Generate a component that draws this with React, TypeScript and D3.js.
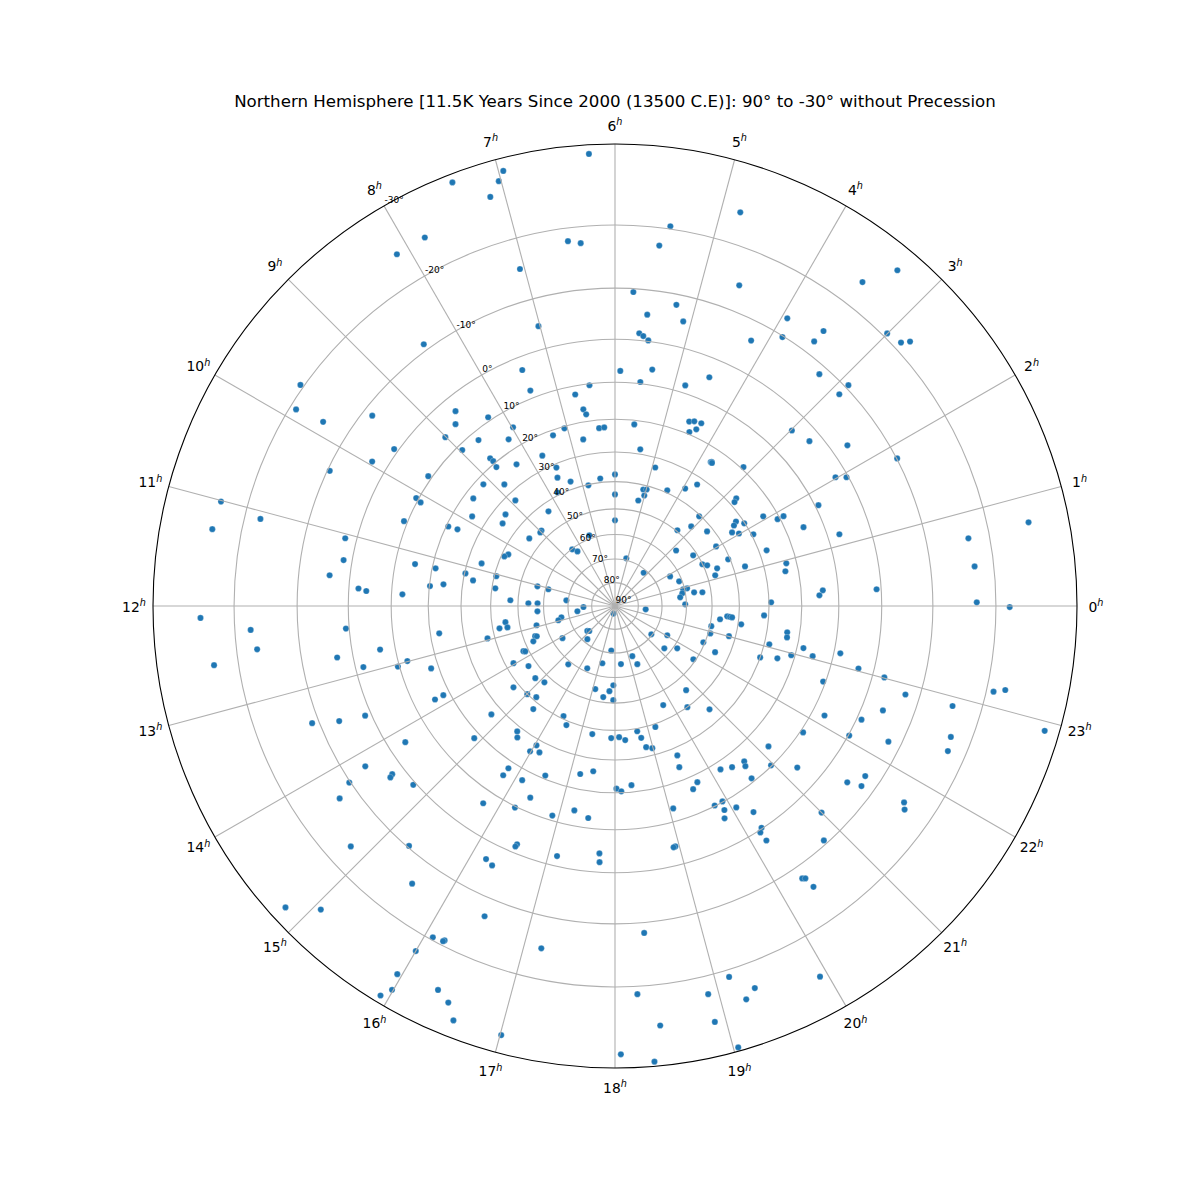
import React from 'react';
import * as d3 from 'd3';

// --- DATA ---
const TITLE = 'Northern Hemisphere [11.5K Years Since 2000 (13500 C.E)]: 90° to -30° without Precession';

// right ascension of each star, hours
const raHours = [
  6.22, 6.96, 7.02, 7.40, 7.13, 7.82, 8.12, 6.49, 6.36, 7.05, 7.02, 8.41, 7.43, 6.44, 7.43, 6.71, 9.66, 9.89, 9.85, 9.46,
  8.62, 8.75, 8.26, 6.61, 6.57, 7.98, 6.34, 6.23, 7.06, 7.33, 6.72, 8.17, 8.63, 9.01, 8.96, 9.64, 7.72, 8.68, 8.67, 8.70,
  8.32, 7.53, 7.61, 7.31, 6.44, 6.83, 6.00, 6.00, 9.15, 8.82, 9.52, 8.89, 7.79, 8.34, 9.86, 9.34, 9.58, 8.95, 9.03, 9.45,
  7.33, 6.00, 8.47, 8.30, 10.28, 10.39, 10.82, 11.18, 11.06, 11.32, 11.44, 11.05, 11.06, 11.79, 11.88, 11.87, 11.56, 12.12,
  3.76, 3.745, 3.739, 3.725, 4.92, 3.149, 3.729, 3.943, 4.379, 5.091, 4.987, 5.011, 5.171, 2.773, 2.733, 2.078, 3.12, 2.328, 2.272, 2.173,
  3.083, 3.369, 2.6, 2.143, 2.021, 1.827, 2.034, 2.817, 2.195, 5.111, 1.493, 1.702, 1.587, 1.129, 1.349, 1.135, 3.283, 1.883, 1.401, 0.917,
  0.916, 0.653, 0.595, 0.713, 0.506, 0.092,
  4.823, 5.447, 5.533, 3.329, 3.508, 4.588, 5.777, 5.232, 5.579, 3.939, 5.101, 3.522, 5.661, 5.601, 5.524, 4.19, 3.873, 3.535, 3.003, 2.843,
  2.791, 5.914, 5.403, 4.506, 3.24, 5.57, 4.822, 2.894, 2.89, 5.596, 4.539, 4.451, 4.315, 4.353, 4.457, 2.985, 2.686, 2.311, 5.389,
  9.95, 10.31, 9.68, 10.10, 10.13, 11.01, 11.08, 11.28, 10.54, 10.30, 10.27, 11.06, 11.36, 11.21, 11.21, 11.59, 11.52, 11.59, 11.74, 11.77,
  11.79, 12.11, 12.25, 12.32, 12.59, 12.46, 12.70, 12.70, 12.56, 12.91, 12.99, 13.04, 13.25, 13.83, 13.83, 13.41, 13.51, 13.58, 14.20,
  12.26, 12.53, 12.79, 12.94, 12.56, 12.92, 12.73, 12.75, 12.95, 14.80, 14.95, 13.38, 13.41, 13.56, 14.10, 15.35, 17.68, 13.75, 13.79, 17.17,
  13.96, 14.32, 15.42, 16.40, 14.81, 15.15, 14.58, 17.11, 17.92, 17.75, 17.51, 17.93, 15.01, 15.28, 15.44, 14.75, 16.33, 16.52, 15.47, 15.56,
  17.33, 14.88, 17.89, 16.04, 15.98, 16.18, 17.25,
  23.59, 23.65, 23.64, 23.63, 23.52, 23.45, 23.76, 23.21, 22.93, 21.47, 22.05, 23.01, 22.51, 21.29, 21.72, 22.35, 19.27, 22.70, 21.72, 18.39,
  19.40, 20.68, 19.73, 20.37, 20.83, 19.23, 18.67, 18.75, 18.12, 18.29, 18.83, 18.98, 19.51,
  1.841, 2.019, 1.939, 1.757, 1.874, 1.87, 1.512, 1.182, 0.723, 0.763, 0.419, 1.345, 0.933, 0.768, 0.287, 0.2, 0.244, 0.09, 0.039, 23.99,
  23.42, 23.31, 23.07, 23.16, 22.81, 22.96, 23.05, 23.21, 23.04, 23.01, 22.67, 22.87, 23.15, 23.19, 22.90, 22.58, 22.16, 22.35, 22.92, 21.74,
  22.07, 22.58, 22.24, 22.43, 21.17,
  20.65, 19.45, 20.19, 20.40, 20.61, 20.96, 21.23, 21.72, 21.52, 21.59, 19.67, 20.56, 18.35, 18.03, 18.13, 19.54, 21.72, 21.66, 19.92, 19.77,
  19.07, 20.07, 19.88, 20.26, 21.00, 19.82, 20.23, 20.18, 20.19, 20.78, 18.94, 18.91, 20.30, 20.33, 20.35, 18.34, 19.14, 19.93, 19.34, 18.22,
  18.90, 19.23, 18.41, 18.90, 19.04, 18.05, 18.33,
  14.18, 14.47, 14.49, 14.24, 14.77, 14.33, 15.78, 15.77, 16.13, 16.51, 17.22, 17.50, 16.41, 15.75, 16.24, 17.25, 16.89, 17.52, 16.51, 16.50,
  15.29, 14.82, 17.13, 17.76, 17.77, 16.20, 16.31, 15.59, 14.83, 15.06, 16.48, 16.08, 16.20, 16.19, 17.19, 16.00, 15.96, 15.99, 15.93, 16.35,
  16.48, 16.58, 17.01,
];

// declination of each star, degrees (same order as raHours)
const decDegrees = [
  -29.0, -28.6, -27.6, -29.1, -26.1, -24.5, -24.4, -18.1, -17.6, -15.4, -4.8, -11.1, 2.9, 10.4, 8.1, 12.2, -20.5, -19.1, -14.6, -8.3,
  3.3, 5.6, 9.1, 16.5, 18.0, 14.7, 22.4, 22.3, 20.6, 21.5, 25.1, 16.9, 12.3, 6.2, 11.4, -0.9, 25.9, 18.1, 19.3, 21.2,
  24.2, 31.2, 34.4, 37.3, 38.6, 40.3, 37.5, 44.6, 22.2, 26.7, 22.6, 32.9, 39.0, 43.1, 25.4, 33.7, 34.8, 46.9, 47.1, 45.5,
  58.5, 54.4, 60.2, 62.1, 42.1, 41.1, 34.6, 30.3, 40.7, 33.2, 41.2, 56.6, 61.1, 47.1, 54.0, 57.6, 69.2, 76.5,
  24.1, 23.9, 24.1, 24.1, 33.2, 19.3, 32.4, 35.7, 39.1, 41.6, 41.3, 43.6, 45.9, 27.4, 28.6, 24.0, 40.5, 32.1, 33.4, 30.2,
  45.1, 49.6, 42.1, 35.2, 33.4, 29.4, 42.5, 55.6, 51.5, 69.2, 40.7, 50.1, 48.6, 36.0, 45.6, 47.1, 71.3, 63.6, 61.1, 58.9,
  60.5, 56.5, 53.3, 61.2, 62.3, 60.5,
  -24.3, -20.4, -17.4, -27.4, -23.6, -14.4, -9.4, -8.1, -5.4, -13.0, -5.3, -14.6, -1.5, -1.0, -0.2, -6.4, -9.8, -12.3, -20.6, -21.1,
  -22.1, 7.2, 6.2, 4.3, -8.4, 9.6, 8.1, -10.6, -8.3, 21.2, 16.6, 16.0, 15.7, 17.8, 19.3, 3.9, 2.6, -3.3, 28.5,
  -3.3, -9.6, 9.1, 9.4, 10.9, -23.6, -17.7, -23.9, 9.1, 20.6, 23.4, -2.4, -1.8, 15.1, 21.0, -4.2, 24.1, 20.2, 2.1, 3.9,
  12.8, -24.5, -17.7, -0.7, 22.6, -17.0, 6.3, -3.3, -23.3, 1.7, 12.3, 9.6, 17.9, 18.1, 15.5, -11.2, -6.5, -1.3, 3.7,
  57.5, 73.8, 66.8, 65.3, 44.9, 56.3, 42.4, 45.3, 37.5, 74.1, 74.7, 54.5, 55.1, 53.1, 64.0, 71.6, 71.0, 48.1, 48.7, 65.2,
  42.8, 46.9, 58.7, 61.3, 46.1, 47.4, 38.0, 54.5, 56.9, 54.5, 52.0, 51.1, 40.0, 41.4, 37.5, 26.7, 41.0, 38.5, 28.4, 26.9,
  38.0, 18.2, 37.3, 28.1, 25.5, 26.6, 86.7,
  76.8, 44.2, 43.2, 42.4, 46.7, 38.9, 31.5, 49.5, 49.2, 70.4, 64.7, 42.3, 50.6, 62.6, 58.5, 45.1, 67.5, 30.0, 50.9, 65.3,
  63.7, 45.1, 45.1, 40.0, 34.6, 38.9, 39.0, 36.5, 37.6, 36.5, 33.1, 32.3, 27.5,
  -10.1, 2.5, 0.4, 9.2, 20.7, 18.8, 15.1, 7.1, -16.9, -25.4, -17.2, 27.6, 23.0, 23.8, 14.0, 15.0, 1.0, 29.3, -17.2, -21.9,
  23.7, 23.5, 28.4, 18.2, 24.8, 21.1, 15.2, 8.4, 3.4, -2.5, 10.6, -7.4, -21.0, -22.5, -15.7, -4.3, 6.9, -1.0, -28.4, 9.3,
  -0.2, -17.0, -7.7, -17.4, 14.1,
  15.7, 23.9, 17.8, 16.5, 14.5, 10.2, 5.2, -7.2, -5.1, -7.7, 17.8, 11.0, 22.0, 21.2, 20.4, 16.5, -15.3, -16.0, 10.2, 10.2,
  13.4, 7.2, 8.1, 4.1, -5.2, 6.3, 0.2, -0.5, -2.6, -9.3, 4.2, 4.1, -12.2, -12.5, -14.4, -11.8, -21.0, -25.6, -23.5, -21.1,
  -22.5, -24.5, -25.4, -26.1, -29.6, -28.5, -29.5,
  -6.1, -2.6, -3.3, -10.2, -0.6, -13.1, 17.9, 15.5, 17.0, 21.0, 24.5, 26.0, 13.7, 6.7, 9.7, 14.0, 11.3, 12.6, 2.0, 1.4,
  -9.7, -16.5, 2.2, 4.2, 2.2, -3.6, -4.2, -14.4, -28.3, -25.5, -13.2, -19.6, -19.2, -19.4, -15.4, -22.4, -26.1, -28.0, -29.2, -25.5,
  -26.4, -28.1, -28.0,
];

const hourTicks = d3.range(0, 24);
const decTicks = [90, 80, 70, 60, 50, 40, 30, 20, 10, 0, -10, -20, -30];

// --- LAYOUT ---
const SIZE = 1200;
const CX = 615;
const CY = 606;
const OUTER_R = 462;
const FONT = '"DejaVu Sans", sans-serif';

// --- SCALES ---
// hour 0 points east and hours grow counter-clockwise; d3.pointRadial measures from north, clockwise
const angle = d3.scaleLinear().domain([0, 24]).range([Math.PI / 2, Math.PI / 2 - 2 * Math.PI]);

// stereographic polar projection of declination
const zenithTan = (dec: number) => Math.tan(((90 - dec) / 2) * (Math.PI / 180));
const radius = d3.scaleLinear().domain([0, zenithTan(-30)]).range([0, OUTER_R]);
const decRadius = (dec: number) => radius(zenithTan(dec));

const stars = raHours.map((ra, i) => ({ ra, dec: decDegrees[i] }));

export default function App() {
  return (
    <svg
      width={SIZE}
      height={SIZE}
      viewBox={`0 0 ${SIZE} ${SIZE}`}
      style={{ position: 'absolute', left: 0, top: 0, background: '#fff' }}
      fontFamily={FONT}
    >
      <text x={CX} y={107} textAnchor="middle" fontSize={16.65} fill="#000">
        {TITLE}
      </text>

      <g transform={`translate(${CX},${CY})`}>
        {/* stars sit under the grid */}
        <g>
          {stars.map((s, i) => {
            const [x, y] = d3.pointRadial(angle(s.ra), decRadius(s.dec));
            return <circle key={i} cx={x} cy={y} r={3.1} fill="#1f77b4" stroke="#fff" strokeOpacity={0.5} strokeWidth={0.5} />;
          })}
        </g>

        {/* declination rings */}
        <g fill="none" stroke="#b0b0b0" strokeWidth={1.1}>
          {decTicks.filter(d => d !== 90 && d !== -30).map(d => (
            <circle key={d} r={decRadius(d)} />
          ))}
        </g>

        {/* hour spokes */}
        <g stroke="#b0b0b0" strokeWidth={1.1}>
          {hourTicks.map(h => {
            const [x, y] = d3.pointRadial(angle(h), OUTER_R);
            return <line key={h} x1={0} y1={0} x2={x} y2={y} />;
          })}
        </g>

        <circle r={OUTER_R} fill="none" stroke="#000" strokeWidth={1.1} />

        {/* hour labels */}
        <g fontSize={13.9} fill="#000">
          {hourTicks.map(h => {
            const [x, y] = d3.pointRadial(angle(h), OUTER_R + 19);
            return (
              <text key={h} x={x} y={y + 5.5} textAnchor="middle">
                {h}
                <tspan fontSize={9.7} fontStyle="italic" dy={-5.5}>h</tspan>
              </text>
            );
          })}
        </g>

        {/* declination labels run along the 8h spoke */}
        <g fontSize={9} fill="#000">
          {decTicks.map(d => {
            const [x, y] = d3.pointRadial(angle(8), decRadius(d));
            return (
              <text key={d} x={x + 0.5} y={y - 2.8}>
                {d}°
              </text>
            );
          })}
        </g>
      </g>
    </svg>
  );
}
